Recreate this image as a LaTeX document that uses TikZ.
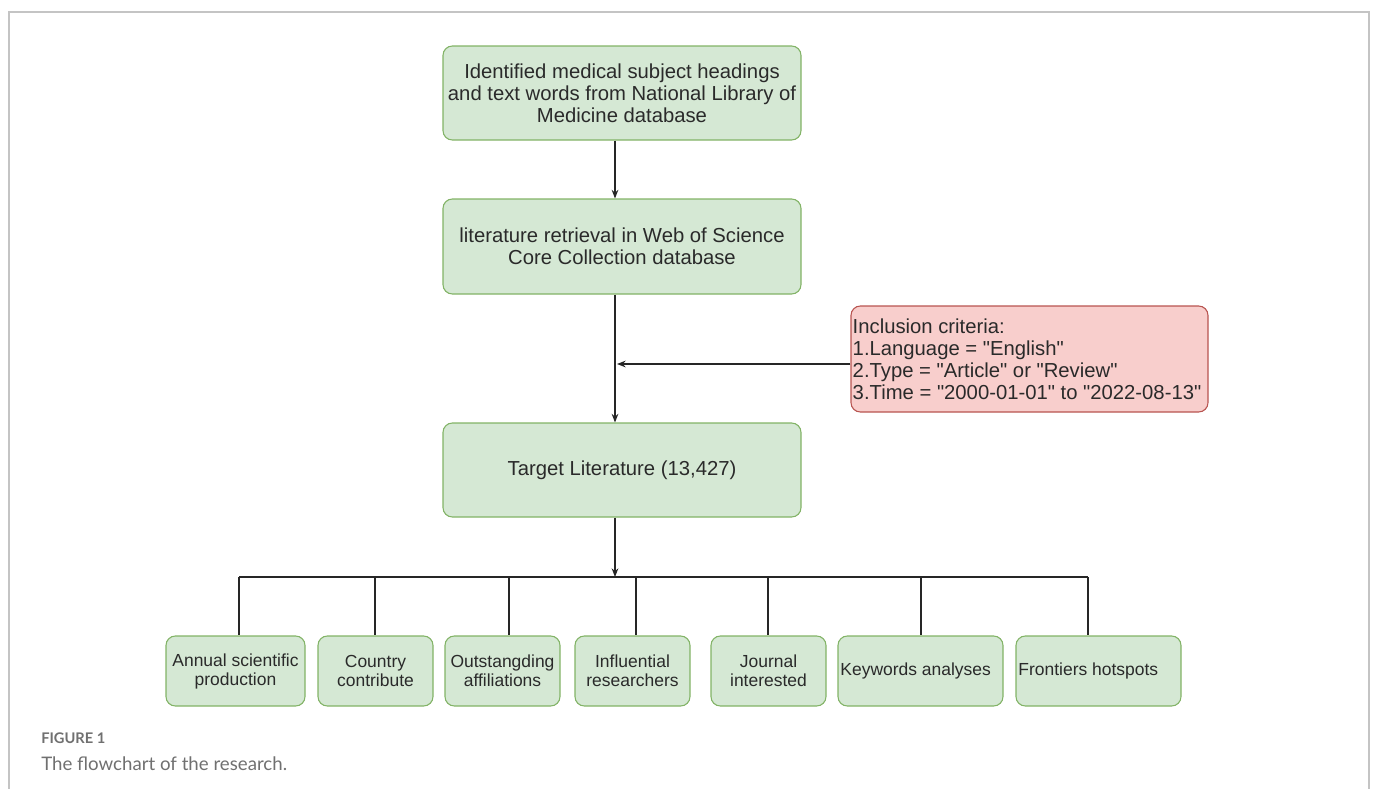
\documentclass[tikz,border=0pt]{standalone}
\usepackage{fontspec}
\setmainfont{Liberation Sans}[Ligatures=TeXOff]
\newfontfamily\capfont{Lato}
\usetikzlibrary{arrows.meta}
\definecolor{gfill}{HTML}{D5E8D4}
\definecolor{gdraw}{HTML}{82B366}
\definecolor{pfill}{HTML}{F8CECC}
\definecolor{pdraw}{HTML}{B85450}
\definecolor{txt}{HTML}{2A2A2A}
\definecolor{capgray}{HTML}{707070}
\definecolor{framegray}{HTML}{C4C4C4}
\begin{document}
\begin{tikzpicture}[x=0.75pt,y=-0.75pt,
  gbox/.style={draw=gdraw, fill=gfill, rounded corners=7pt, line width=0.8pt, text=txt, align=center, inner sep=0pt},
  pbox/.style={draw=pdraw, fill=pfill, rounded corners=7pt, line width=0.8pt, inner sep=0pt},
  bigtxt/.style={font=\fontsize{15.2}{16.5}\selectfont},
  smalltxt/.style={font=\fontsize{13.1}{14.25}\selectfont},
  topbox/.style={gbox, bigtxt, minimum width=268.5pt, minimum height=70.5pt},
  botbox/.style={gbox, smalltxt, minimum height=52.5pt},
  conn/.style={line width=0.9pt, black!85},
  arr/.style={conn, -{Stealth[length=6.5pt,width=5pt]}},
  plaintxt/.style={inner sep=0pt, text=txt, align=left}
]
\useasboundingbox (0,0) rectangle (1375,789);
% frame
\draw[framegray, line width=0.9pt] (9,789) -- (9,12) -- (1369,12) -- (1369,789);

% main column
\node[topbox] (b1) at (622,93) {Identified medical subject headings\\and text words from National Library of\\Medicine database};
\node[topbox, minimum height=71.25pt] (b2) at (622,246.5) {literature retrieval in Web of Science\\Core Collection database};
\node[topbox] (b3) at (622,470) {Target Literature (13,427)};

% inclusion criteria
\node[pbox, minimum width=267.75pt, minimum height=79.5pt] (pink) at (1029.5,359) {};
\node[plaintxt, bigtxt, anchor=west] (pinktxt) at ([xshift=1.5pt]pink.west) {Inclusion criteria:\\1.Language = "English"\\2.Type = "Article" or "Review"\\3.Time = "2000-01-01" to "2022-08-13"};

\coordinate (spine) at (615,0);
\coordinate (inc) at (617,364);

\draw[arr] (b1.south -| spine) -- (b2.north -| spine);
\draw[arr] (b2.south -| spine) -- (b3.north -| spine);
\draw[arr] (pink.west |- inc) -- (inc);

% bottom boxes
\node[botbox, minimum width=104.25pt] (c1) at (235.5,671) {Annual scientific\\production};
\node[botbox, minimum width=86.25pt] (c2) at (375.5,671) {Country\\contribute};
\node[botbox, minimum width=86.25pt] (c3) at (502.5,671) {Outstangding\\affiliations};
\node[botbox, minimum width=86.25pt] (c4) at (632.5,671) {Influential\\researchers};
\node[botbox, minimum width=86.25pt] (c5) at (768.5,671) {Journal\\interested};
\node[botbox, minimum width=123.75pt] (c6) at (920.5,671) {};
\node[botbox, minimum width=123.75pt] (c7) at (1098.5,671) {};
\node[plaintxt, smalltxt, anchor=west] (t6) at ([xshift=2pt]c6.west) {Keywords analyses};
\node[plaintxt, smalltxt, anchor=west] (t7) at ([xshift=2pt]c7.west) {Frontiers hotspots};

% bus
\coordinate (s1) at (239,577);
\coordinate (s2) at (375,577);
\coordinate (s3) at (509,577);
\coordinate (s4) at (636,577);
\coordinate (s5) at (768,577);
\coordinate (s6) at (921,577);
\coordinate (s7) at (1088,577);
\draw[conn] (s1) -- (s7);
\draw[arr] (b3.south -| spine) -- (spine |- s1);
\draw[conn] (s1) -- (s1 |- c1.north);
\draw[conn] (s2) -- (s2 |- c2.north);
\draw[conn] (s3) -- (s3 |- c3.north);
\draw[conn] (s4) -- (s4 |- c4.north);
\draw[conn] (s5) -- (s5 |- c5.north);
\draw[conn] (s6) -- (s6 |- c6.north);
\draw[conn] (s7) -- (s7 |- c7.north);

% caption
\node[anchor=base west, inner sep=0pt, text=capgray, font=\capfont\bfseries\fontsize{11}{13}\selectfont] (fig) at (41,743) {FIGURE 1};
\node[anchor=base west, inner sep=0pt, text=capgray, font=\capfont\fontsize{14}{17}\selectfont] (cap) at (41,770) {The flowchart of the research.};
\end{tikzpicture}
\end{document}
